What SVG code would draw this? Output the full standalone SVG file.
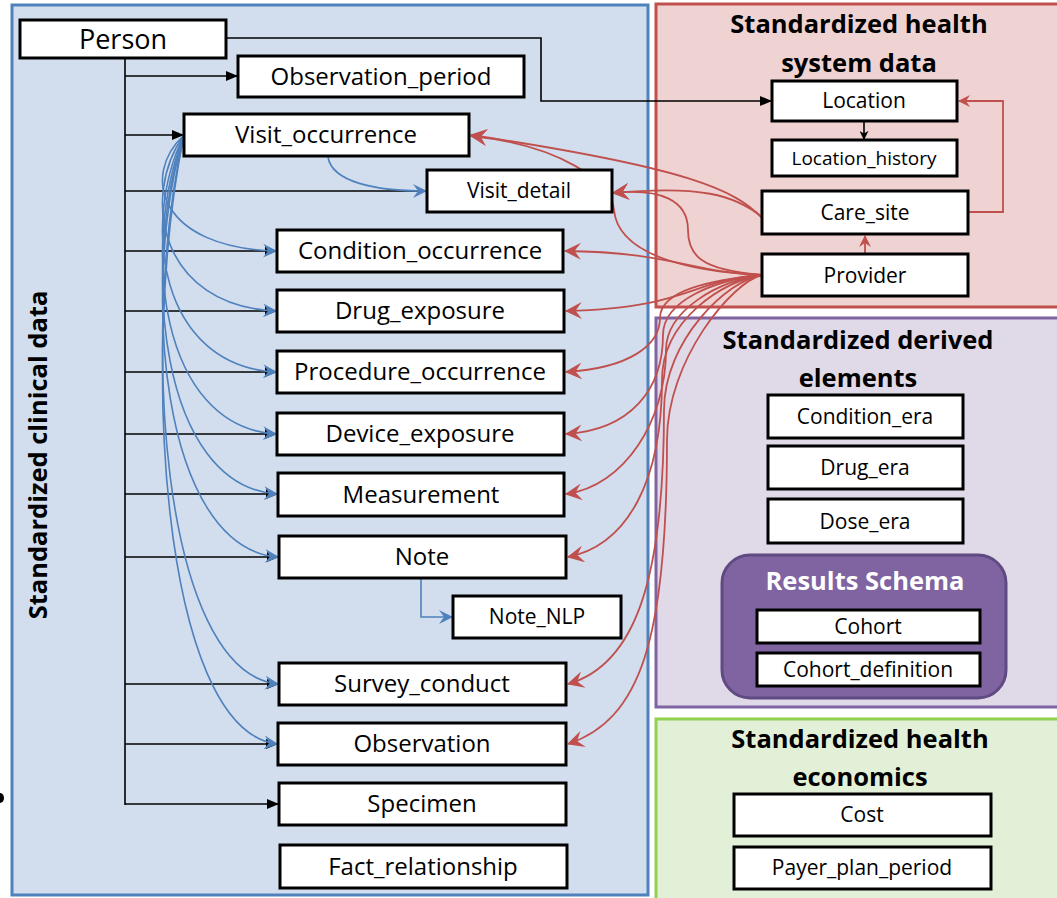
<svg xmlns="http://www.w3.org/2000/svg" width="1057" height="898" viewBox="0 0 1057 898">
  <defs>
    <marker id="arrow-black" viewBox="0 0 12 12" refX="11" refY="6" markerWidth="12" markerHeight="12" markerUnits="userSpaceOnUse" orient="auto">
      <path d="M0,1 L12,6 L0,11 z" fill="#000"/>
    </marker>
    <marker id="arrow-black-small" viewBox="0 0 10 10" refX="9" refY="5" markerWidth="9" markerHeight="9" markerUnits="userSpaceOnUse" orient="auto">
      <path d="M0,0 L10,5 L0,10 L3,5 z" fill="#000"/>
    </marker>
    <marker id="arrow-blue" viewBox="0 0 14 14" refX="13" refY="7" markerWidth="14" markerHeight="14" markerUnits="userSpaceOnUse" orient="auto">
      <path d="M0,0 L14,7 L0,14 L5,7 z" fill="#4F81BD"/>
    </marker>
    <marker id="arrow-red" viewBox="0 0 16 16" refX="15" refY="8" markerWidth="17" markerHeight="17" markerUnits="userSpaceOnUse" orient="auto">
      <path d="M0,0 L16,8 L0,16 L6,8 z" fill="#C0504D"/>
    </marker>
    <marker id="arrow-red-small" viewBox="0 0 12 12" refX="11" refY="6" markerWidth="12" markerHeight="12" markerUnits="userSpaceOnUse" orient="auto">
      <path d="M0,0 L12,6 L0,12 L4,6 z" fill="#C0504D"/>
    </marker>
  </defs>
  <style>
    .panel { stroke-width: 3; }
    .box { fill: #fff; stroke: #000; stroke-width: 3; }
    .lbl { font-family: "Open Sans", "Liberation Sans", sans-serif; fill: #000; text-anchor: middle; }
    .big { font-size: 24px; }
    .mid { font-size: 21px; }
    .small { font-size: 19px; }
    .title { font-family: "Open Sans", "Liberation Sans", sans-serif; font-weight: bold; font-size: 25.5px; fill: #000; text-anchor: middle; }
    .blk { fill: none; stroke: #000; stroke-width: 1.6; }
    .blu { fill: none; stroke: #4F81BD; stroke-width: 1.6; }
    .red { fill: none; stroke: #C0504D; stroke-width: 1.8; }
  </style>

  <rect width="1057" height="898" fill="#fff"/>

  <!-- schema panels -->
  <g id="panel-clinical">
    <rect class="panel" x="12" y="5" width="636" height="890" fill="#D2DEEE" stroke="#4F81BD"/>
    <text class="title" transform="translate(47,455) rotate(-90)">Standardized clinical data</text>
  </g>
  <g id="panel-health-system">
    <rect class="panel" x="656" y="4" width="406" height="303" fill="#EFD3D2" stroke="#C0504D"/>
    <text class="title" x="859" y="33">Standardized health</text>
    <text class="title" x="859" y="72">system data</text>
  </g>
  <g id="panel-derived">
    <rect class="panel" x="656" y="318" width="406" height="389" fill="#E0D9E8" stroke="#8064A2"/>
    <text class="title" x="858" y="349">Standardized derived</text>
    <text class="title" x="858" y="387">elements</text>
  </g>
  <g id="panel-economics">
    <rect class="panel" x="656" y="719" width="406" height="185" fill="#E3F0D8" stroke="#92D050"/>
    <text class="title" x="860" y="748">Standardized health</text>
    <text class="title" x="860" y="786">economics</text>
  </g>

  <!-- connectors -->
  <g id="connectors">
    <!-- person tree -->
    <path class="blk" d="M125,58 V805"/>
    <path class="blk" d="M125,76 H237" marker-end="url(#arrow-black)"/>
    <path class="blk" d="M125,135 H183" marker-end="url(#arrow-black)"/>
    <path class="blk" d="M125,191 H426"/>
    <path class="blk" d="M125,251 H276" marker-end="url(#arrow-black)"/>
    <path class="blk" d="M125,311 H276" marker-end="url(#arrow-black)"/>
    <path class="blk" d="M125,372 H276" marker-end="url(#arrow-black)"/>
    <path class="blk" d="M125,434 H276" marker-end="url(#arrow-black)"/>
    <path class="blk" d="M125,494 H277" marker-end="url(#arrow-black)"/>
    <path class="blk" d="M125,557 H278" marker-end="url(#arrow-black)"/>
    <path class="blk" d="M125,684 H278" marker-end="url(#arrow-black)"/>
    <path class="blk" d="M125,744 H277" marker-end="url(#arrow-black)"/>
    <path class="blk" d="M125,804 H278" marker-end="url(#arrow-black)"/>
    <path class="blk" d="M226,38 H541 V101 H771" marker-end="url(#arrow-black)"/>
    <path class="blk" d="M864,122 V139" marker-end="url(#arrow-black-small)"/>

    <!-- visit occurrence fan -->
    <path class="blu" d="M328,157 C332,182 375,191 426,191" marker-end="url(#arrow-blue)"/>
    <path class="blu" d="M184,135 C140,176 160,248 276,251" marker-end="url(#arrow-blue)"/>
    <path class="blu" d="M184,135 C140,197 160,306 276,311" marker-end="url(#arrow-blue)"/>
    <path class="blu" d="M184,135 C140,225 160,366 276,372" marker-end="url(#arrow-blue)"/>
    <path class="blu" d="M184,135 C140,247 160,427 276,434" marker-end="url(#arrow-blue)"/>
    <path class="blu" d="M184,135 C140,268 160,486 277,494" marker-end="url(#arrow-blue)"/>
    <path class="blu" d="M184,135 C140,283 160,548 278,557" marker-end="url(#arrow-blue)"/>
    <path class="blu" d="M184,135 C140,327 160,672 278,684" marker-end="url(#arrow-blue)"/>
    <path class="blu" d="M184,135 C140,348 160,730 277,744" marker-end="url(#arrow-blue)"/>
    <path class="blu" d="M421,578 V617 H452" marker-end="url(#arrow-blue)"/>

    <!-- health system links -->
    <path class="red" d="M968,212 H1003 V101 H959" marker-end="url(#arrow-red-small)"/>
    <path class="red" d="M865,254 V236" marker-end="url(#arrow-red-small)"/>
    <path class="red" d="M762,218 C735,190 690,168 471,135" marker-end="url(#arrow-red)"/>
    <path class="red" d="M762,217 C735,195 700,185 613,193" marker-end="url(#arrow-red)"/>
    <path class="red" d="M762,275 C690,272 618,255 614,210 C612,182 560,145 471,136" marker-end="url(#arrow-red)"/>
    <path class="red" d="M762,275 C700,270 688,255 688,230 C688,200 660,188 613,193" marker-end="url(#arrow-red)"/>
    <path class="red" d="M762,275 C690,272 670,252 565,251" marker-end="url(#arrow-red)"/>
    <path class="red" d="M762,275 C690,280 690,308 566,311" marker-end="url(#arrow-red)"/>
    <path class="red" d="M762,275 C712,280 660,290 660,318 C660,345 630,368 566,372" marker-end="url(#arrow-red)"/>
    <path class="red" d="M762,275 C716,280 663,300 663,335 C663,390 630,430 566,434" marker-end="url(#arrow-red)"/>
    <path class="red" d="M762,275 C720,280 666,310 666,350 C666,420 625,486 566,494" marker-end="url(#arrow-red)"/>
    <path class="red" d="M762,275 C724,280 662,320 662,380 C662,480 628,545 568,557" marker-end="url(#arrow-red)"/>
    <path class="red" d="M762,275 C728,280 664,340 664,410 C664,580 635,665 568,684" marker-end="url(#arrow-red)"/>
    <path class="red" d="M762,275 C732,282 667,360 667,440 C667,640 640,720 568,744" marker-end="url(#arrow-red)"/>
  </g>

  <!-- clinical tables -->
  <g id="person"><rect class="box" x="20" y="20" width="206" height="38"/><text class="lbl" x="123" y="49" font-size="27">Person</text></g>
  <g id="observation-period"><rect class="box" x="238" y="56" width="286" height="41"/><text class="lbl big" x="381" y="85">Observation_period</text></g>
  <g id="visit-occurrence"><rect class="box" x="184" y="114" width="285" height="42"/><text class="lbl big" x="326" y="143">Visit_occurrence</text></g>
  <g id="visit-detail"><rect class="box" x="427" y="170" width="185" height="42"/><text class="lbl mid" x="519" y="198">Visit_detail</text></g>
  <g id="condition-occurrence"><rect class="box" x="277" y="230" width="286" height="42"/><text class="lbl big" x="420" y="259">Condition_occurrence</text></g>
  <g id="drug-exposure"><rect class="box" x="277" y="290" width="287" height="42"/><text class="lbl big" x="420" y="319">Drug_exposure</text></g>
  <g id="procedure-occurrence"><rect class="box" x="277" y="351" width="287" height="42"/><text class="lbl big" x="420" y="380">Procedure_occurrence</text></g>
  <g id="device-exposure"><rect class="box" x="277" y="413" width="287" height="42"/><text class="lbl big" x="420" y="442">Device_exposure</text></g>
  <g id="measurement"><rect class="box" x="278" y="473" width="286" height="43"/><text class="lbl big" x="421" y="503">Measurement</text></g>
  <g id="note"><rect class="box" x="279" y="536" width="287" height="42"/><text class="lbl big" x="422" y="565">Note</text></g>
  <g id="note-nlp"><rect class="box" x="453" y="596" width="168" height="42"/><text class="lbl mid" x="537" y="624">Note_NLP</text></g>
  <g id="survey-conduct"><rect class="box" x="279" y="663" width="287" height="42"/><text class="lbl big" x="422" y="692">Survey_conduct</text></g>
  <g id="observation"><rect class="box" x="278" y="723" width="288" height="42"/><text class="lbl big" x="422" y="752">Observation</text></g>
  <g id="specimen"><rect class="box" x="279" y="783" width="287" height="42"/><text class="lbl big" x="422" y="812">Specimen</text></g>
  <g id="fact-relationship"><rect class="box" x="280" y="845" width="287" height="43"/><text class="lbl big" x="423" y="875">Fact_relationship</text></g>

  <!-- health system tables -->
  <g id="location"><rect class="box" x="772" y="81" width="185" height="40"/><text class="lbl mid" x="864" y="108">Location</text></g>
  <g id="location-history"><rect class="box" x="772" y="140" width="185" height="36"/><text class="lbl small" x="864" y="165">Location_history</text></g>
  <g id="care-site"><rect class="box" x="762" y="191" width="206" height="43"/><text class="lbl mid" x="865" y="220">Care_site</text></g>
  <g id="provider"><rect class="box" x="762" y="254" width="206" height="42"/><text class="lbl mid" x="865" y="283">Provider</text></g>

  <!-- derived elements -->
  <g id="condition-era"><rect class="box" x="768" y="395" width="195" height="43"/><text class="lbl mid" x="865" y="424">Condition_era</text></g>
  <g id="drug-era"><rect class="box" x="768" y="446" width="195" height="43"/><text class="lbl mid" x="865" y="475">Drug_era</text></g>
  <g id="dose-era"><rect class="box" x="768" y="499" width="195" height="44"/><text class="lbl mid" x="865" y="529">Dose_era</text></g>
  <g id="results-schema">
    <rect x="722" y="555" width="284" height="143" rx="28" fill="#8064A2" stroke="#5F4A82" stroke-width="3"/>
    <text class="title" x="865" y="590" style="fill:#fff">Results Schema</text>
  </g>
  <g id="cohort"><rect class="box" x="757" y="610" width="223" height="33"/><text class="lbl mid" x="868" y="634">Cohort</text></g>
  <g id="cohort-definition"><rect class="box" x="757" y="653" width="223" height="33"/><text class="lbl mid" x="868" y="677">Cohort_definition</text></g>

  <!-- health economics -->
  <g id="cost"><rect class="box" x="734" y="794" width="257" height="42"/><text class="lbl mid" x="862" y="822">Cost</text></g>
  <g id="payer-plan-period"><rect class="box" x="734" y="847" width="257" height="42"/><text class="lbl mid" x="862" y="875">Payer_plan_period</text></g>

  <ellipse cx="0" cy="798" rx="4" ry="5" fill="#000"/>
</svg>
